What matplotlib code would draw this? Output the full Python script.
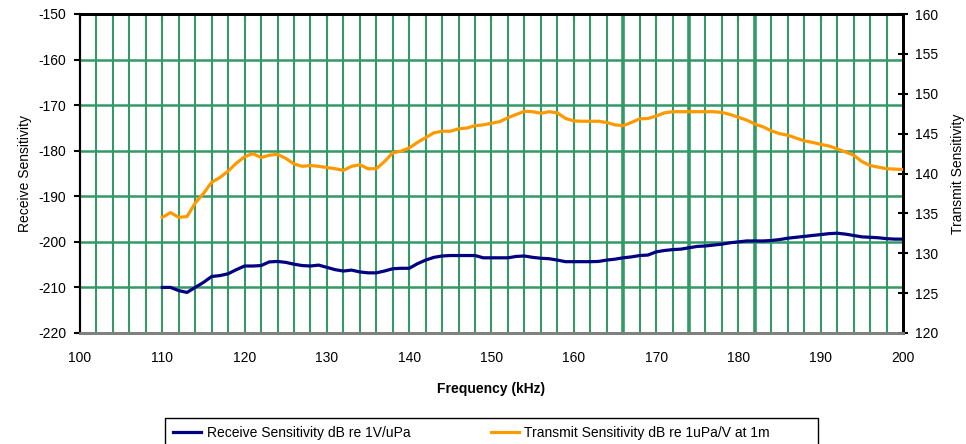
import numpy as np
import matplotlib
matplotlib.use("Agg")
import matplotlib.pyplot as plt
from matplotlib.patches import Rectangle

plt.rcParams["font.family"] = ["Liberation Sans", "DejaVu Sans"]
plt.rcParams["font.size"] = 10
plt.rcParams["axes.unicode_minus"] = False

# ---- DATA ----
freq_khz = list(range(110, 201))

receive_db = [
    -210.0, -210.0, -210.7, -211.1, -210.0, -208.9, -207.6, -207.4, -207.0, -206.1,
    -205.3, -205.3, -205.2, -204.4, -204.3, -204.5, -204.9, -205.2, -205.3, -205.1,
    -205.6, -206.1, -206.4, -206.2, -206.6, -206.8, -206.8, -206.4, -205.9, -205.8,
    -205.8, -204.8, -204.0, -203.4, -203.1, -203.0, -203.0, -203.0, -203.0, -203.5,
    -203.5, -203.5, -203.5, -203.2, -203.1, -203.4, -203.6, -203.7, -204.0, -204.35,
    -204.35, -204.35, -204.35, -204.3, -204.0, -203.8, -203.5, -203.3, -203.0, -202.9,
    -202.2, -201.9, -201.7, -201.6, -201.3, -201.0, -200.9, -200.7, -200.5, -200.2,
    -200.0, -199.8, -199.8, -199.8, -199.7, -199.5, -199.2, -199.0, -198.8, -198.6,
    -198.4, -198.2, -198.1, -198.3, -198.6, -198.9, -199.0, -199.1, -199.3, -199.4,
    -199.4,
]

transmit_db = [
    134.5, 135.1, 134.5, 134.6, 136.3, 137.5, 138.9, 139.5, 140.3, 141.3,
    142.1, 142.5, 142.0, 142.3, 142.4, 141.9, 141.2, 140.9, 141.0, 140.9,
    140.75, 140.6, 140.4, 140.9, 141.1, 140.6, 140.6, 141.5, 142.6, 142.8,
    143.2, 143.9, 144.5, 145.1, 145.3, 145.3, 145.6, 145.7, 146.0, 146.1,
    146.3, 146.5, 147.0, 147.4, 147.8, 147.75, 147.55, 147.75, 147.6, 146.9,
    146.6, 146.55, 146.55, 146.55, 146.4, 146.1, 146.0, 146.4, 146.85, 146.9,
    147.2, 147.6, 147.75, 147.75, 147.75, 147.75, 147.75, 147.75, 147.65, 147.4,
    147.05, 146.7, 146.2, 145.85, 145.35, 145.0, 144.8, 144.45, 144.1, 143.9,
    143.65, 143.45, 143.1, 142.7, 142.3, 141.5, 141.0, 140.8, 140.6, 140.55,
    140.5,
]

x_ticks = list(range(100, 201, 10))
left_ticks = list(range(-220, -149, 10))
right_ticks = list(range(120, 161, 5))

# ---- STYLE ----
navy = "#000080"
orange = "#FF9900"
grid_green = "#339966"

fig = plt.figure(figsize=(9.66, 4.44), dpi=100)
ax = fig.add_axes([80 / 966, 1 - 333 / 444, 823 / 966, 319 / 444])
ax2 = ax.twinx()

ax.set_xlim(100, 200)
ax.set_ylim(-220, -150)
ax2.set_ylim(120, 160)

# green grid (every 2 kHz vertical, every 10 dB horizontal)
for gx in range(102, 200, 2):
    lw = 2.6 if gx in (166, 174, 182) else 1.5
    ax.axvline(gx, color=grid_green, linewidth=lw, zorder=1)
for gy in left_ticks[1:-1]:
    ax.axhline(gy, color=grid_green, linewidth=1.8, zorder=1)

l1, = ax.plot(freq_khz, receive_db, color=navy, linewidth=2.3, zorder=3,
              label="Receive Sensitivity dB re 1V/uPa")
l2, = ax2.plot(freq_khz, transmit_db, color=orange, linewidth=2.3, zorder=3,
               label="Transmit Sensitivity dB re 1uPa/V at 1m")

ax.set_xticks(x_ticks)
ax.set_yticks(left_ticks)
ax2.set_yticks(right_ticks)

ax.tick_params(axis="x", which="both", length=0, pad=13, labelsize=10)
ax.tick_params(axis="y", direction="out", length=4, width=1.5, pad=6, labelsize=10)
ax2.tick_params(axis="y", direction="inout", length=7, width=1.5, pad=5, labelsize=10)

# top ticks every 10 kHz pointing in
ax_top = ax.secondary_xaxis("top")
ax_top.set_xticks(x_ticks)
ax_top.tick_params(direction="in", length=5, width=1.5, labeltop=False)
ax_top.spines["top"].set_visible(False)

for a in (ax, ax2):
    a.spines["bottom"].set_color("#808080")
    a.spines["bottom"].set_linewidth(2)
    a.spines["top"].set_linewidth(2)
    a.spines["left"].set_linewidth(1.5)
    a.spines["right"].set_linewidth(2)

ax.set_xlabel("Frequency (kHz)", fontweight="bold", labelpad=12)
ax.set_ylabel("Receive Sensitivity", labelpad=4)
ax2.set_ylabel("Transmit Sensitivity", labelpad=9)

# legend box runs past the bottom edge of the image
fig.patches.append(Rectangle((165 / 966, -0.05), 653 / 966, 0.05 + 26 / 444,
                             transform=fig.transFigure, fill=False,
                             edgecolor="black", linewidth=1.0))
fig.legend(handles=[l1, l2], loc="upper left", ncol=2,
           bbox_to_anchor=(165 / 966, 1 - 418 / 444),
           frameon=False, fontsize=10, handlelength=2.0, handletextpad=0.4,
           columnspacing=5.8, borderaxespad=0, borderpad=0.6)

fig.savefig("out.png", dpi=100)
